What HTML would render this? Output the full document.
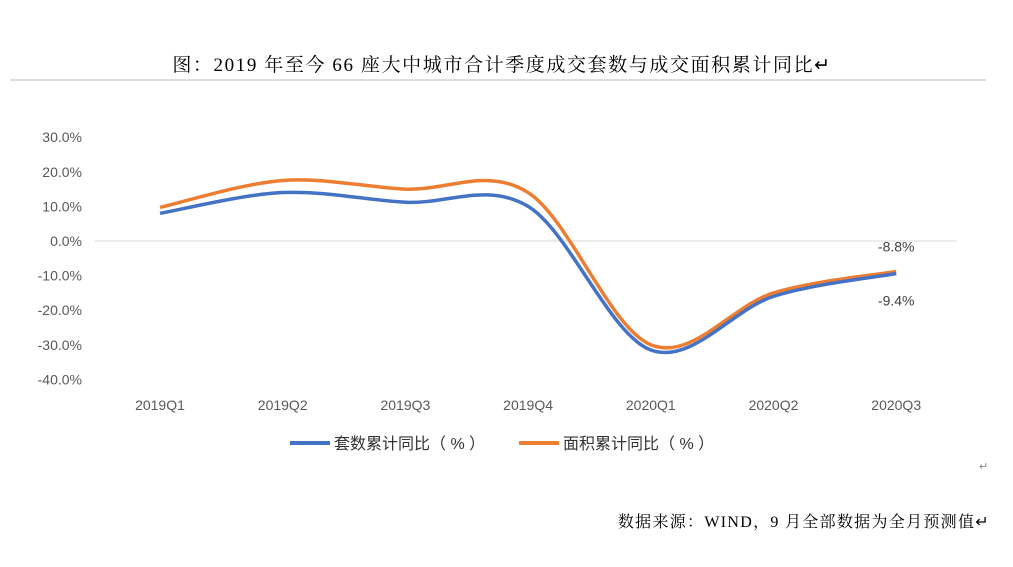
<!DOCTYPE html>
<html><head><meta charset="utf-8"><style>
body{margin:0;background:#fff;width:1013px;height:562px;overflow:hidden;font-family:"Liberation Sans","Noto Sans CJK SC",sans-serif;}
</style></head><body>
<svg width="1013" height="562">
<text x="502" y="71" text-anchor="middle" font-size="19" letter-spacing="1.6" fill="#000" font-family="Liberation Serif, Noto Serif CJK SC, serif">图：2019 年至今 66 座大中城市合计季度成交套数与成交面积累计同比↵</text>
<line x1="10" y1="80" x2="986" y2="80" stroke="#bbb" stroke-width="1"/>
<g id="yaxis"></g>
<g id="xaxis"></g>
<g id="series"></g>
<g>
<line x1="290" y1="443" x2="330" y2="443" stroke="#4472C4" stroke-width="4"/>
<text x="334" y="449" font-size="16" fill="#333">套数累计同比（ % ）</text>
<line x1="519" y1="443" x2="559" y2="443" stroke="#ED7D31" stroke-width="4"/>
<text x="563" y="449" font-size="16" fill="#333">面积累计同比（ % ）</text>
</g>
<text x="979" y="470" font-size="11" fill="#888">↵</text>
<text x="990" y="527" text-anchor="end" font-size="16" letter-spacing="1.3" fill="#000" font-family="Liberation Serif, Noto Serif CJK SC, serif">数据来源：WIND，9 月全部数据为全月预测值↵</text>
</svg>
<script>
const categories=["2019Q1","2019Q2","2019Q3","2019Q4","2020Q1","2020Q2","2020Q3"];
const unitsYoY=[8.0,14.0,11.2,10.0,-31.5,-16.0,-9.4];
const areaYoY=[9.7,17.5,15.0,14.0,-30.0,-15.0,-8.8];
const yTicks=[30,20,10,0,-10,-20,-30,-40];
const ns="http://www.w3.org/2000/svg";
function y(v){return 241-v*3.46;}
function x(i){return 160+i*122.7;}
function mk(t,a,p){const e=document.createElementNS(ns,t);for(const k in a)e.setAttribute(k,a[k]);p.appendChild(e);return e;}
const ya=document.getElementById('yaxis');
yTicks.forEach(v=>{
 const t=mk('text',{x:82,y:y(v)+5,'text-anchor':'end','font-size':14,fill:'#595959'},ya);
 
 
 t.textContent=v.toFixed(1)+'%';
});
const zl=mk('line',{x1:95,x2:957,y1:y(0),y2:y(0),stroke:'#d9d9d9'},ya);


const xa=document.getElementById('xaxis');
categories.forEach((c,i)=>{
 const t=mk('text',{x:x(i),y:410,'text-anchor':'middle','font-size':14,fill:'#595959'},xa);
 
 
 t.textContent=c;
});
function path(vals){
 const p=vals.map((v,i)=>[x(i),y(v)]);
 let d='M'+p[0][0]+','+p[0][1];
 for(let i=0;i<p.length-1;i++){
  const p0=p[i-1]||p[i],p1=p[i],p2=p[i+1],p3=p[i+2]||p2;
  const c1=[p1[0]+(p2[0]-p0[0])/6,p1[1]+(p2[1]-p0[1])/6];
  const c2=[p2[0]-(p3[0]-p1[0])/6,p2[1]-(p3[1]-p1[1])/6];
  d+=' C'+c1+' '+c2+' '+p2;
 }
 return d;
}
const sg=document.getElementById('series');
const la=mk('path',{d:path(areaYoY),fill:'none',stroke:'#ED7D31','stroke-width':3.5},sg);


const lu=mk('path',{d:path(unitsYoY),fill:'none',stroke:'#4472C4','stroke-width':3.5},sg);


const n=categories.length-1;
const ta=mk('text',{x:x(n),y:y(areaYoY[n])-20,'text-anchor':'middle','font-size':14,fill:'#404040'},sg);


ta.textContent=areaYoY[n].toFixed(1)+'%';
const tu=mk('text',{x:x(n),y:y(unitsYoY[n])+32,'text-anchor':'middle','font-size':14,fill:'#404040'},sg);


tu.textContent=unitsYoY[n].toFixed(1)+'%';
</script>
</body></html>
